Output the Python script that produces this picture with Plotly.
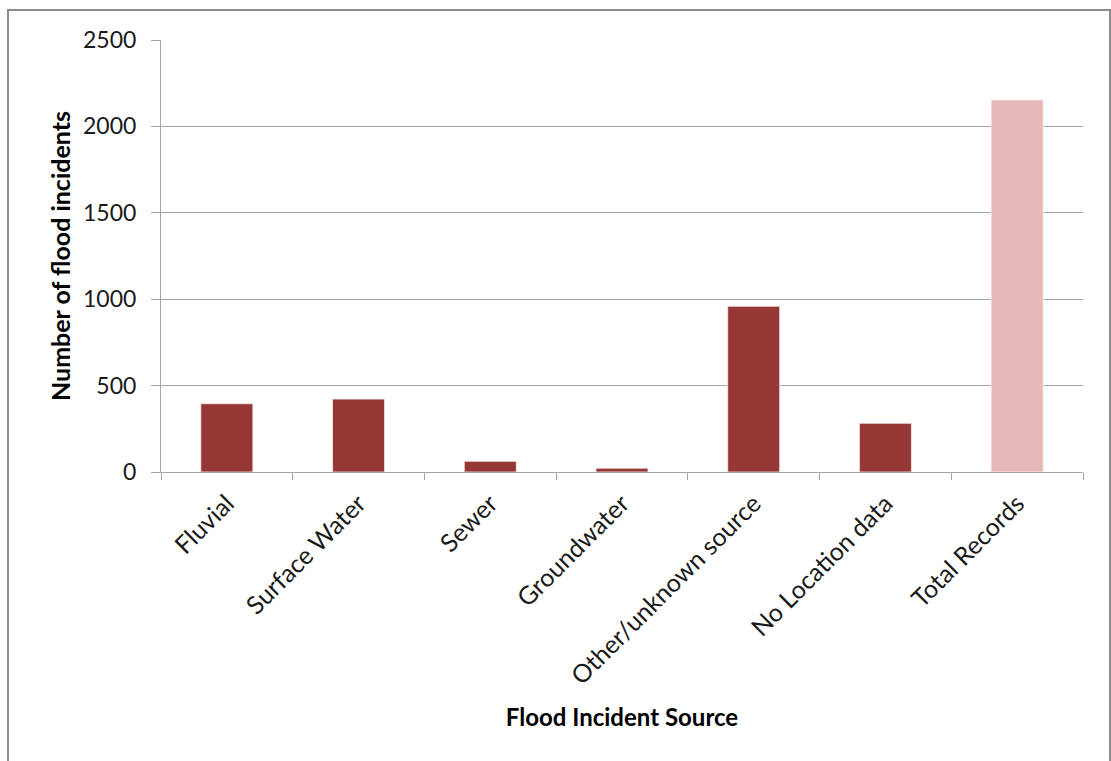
import plotly.graph_objects as go

categories = ["Fluvial", "Surface Water", "Sewer", "Groundwater",
              "Other/unknown source", "No Location data", "Total Records"]
incidents = [395, 422, 62, 22, 959, 282, 2153]
bar_colors = ["#953735", "#953735", "#953735", "#953735",
              "#953735", "#953735", "#E6B9B8"]
y_ticks = [0, 500, 1000, 1500, 2000, 2500]

FONT = "Lato"
GRID = "#a6a6a6"

fig = go.Figure()
fig.add_trace(go.Bar(
    x=categories,
    y=incidents,
    marker=dict(color=bar_colors, line=dict(color="rgba(255,235,235,0.8)", width=1)),
    showlegend=False,
))

fig.update_layout(
    width=1111, height=761,
    margin=dict(l=161, r=28, t=40, b=289),
    paper_bgcolor="white",
    plot_bgcolor="white",
    bargap=0.605,
    font=dict(family=FONT, color="#1a1a1a"),
    xaxis=dict(
        tickangle=-45,
        tickfont=dict(family=FONT, size=25, color="#1a1a1a"),
        showline=True, linecolor=GRID, linewidth=1,
        ticks="outside", tickson="boundaries", ticklen=7, tickcolor=GRID,
        ticklabelstandoff=6,
        showgrid=False,
        title=dict(text="<b>Flood Incident Source</b>",
                   font=dict(family=FONT, size=24, color="#000"),
                   standoff=20),
    ),
    yaxis=dict(
        range=[0, 2500],
        tickvals=y_ticks,
        tickfont=dict(family=FONT, size=23, color="#1a1a1a"),
        showline=True, linecolor=GRID, linewidth=1,
        ticks="outside", ticklen=9, tickcolor=GRID,
        ticklabelstandoff=10,
        showgrid=True, gridcolor=GRID, gridwidth=1,
        zeroline=False,
        title=dict(text="<b>Number of flood incidents</b>",
                   font=dict(family=FONT, size=25, color="#000"),
                   standoff=5),
    ),
    shapes=[
        dict(type="rect", xref="paper", yref="paper",
             x0=(8 - 161) / 922, x1=(1110 - 161) / 922,
             y0=-0.8, y1=(472 - 10) / 432,
             line=dict(color="#8c8c8c", width=2), fillcolor="rgba(0,0,0,0)",
             layer="below"),
    ],
)

fig.write_html("out.html")
